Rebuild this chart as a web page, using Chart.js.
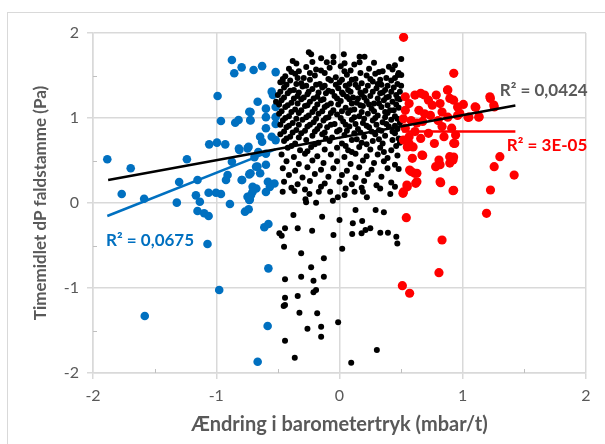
<!DOCTYPE html>
<html>
<head>
<meta charset="utf-8">
<script src="https://cdn.jsdelivr.net/npm/chart.js@4.4.1/dist/chart.umd.min.js"></script>
<style>
  html, body { margin: 0; padding: 0; background: #fff; overflow: hidden; }
  #wrap { position: relative; width: 605px; height: 444px; }
  #frame { position: absolute; left: 7px; top: 12px; width: 700px; height: 500px; border: 1.5px solid #d9d9d9; }
  canvas { position: absolute; left: 0; top: 0; }
</style>
</head>
<body>
<div id="wrap">
  <div id="frame"></div>
  <canvas id="chart" width="605" height="444"></canvas>
</div>
<script>
// Data: [x, y] = [mbar/t, Pa]
const bluePoints = [
  [-1.884, 0.514], [-1.694, 0.408], [-1.767, 0.106], [-1.585, 0.05], [-1.238, 0.514],
  [-1.301, 0.247], [-1.152, 0.27], [-1.165, 0.09], [-1.133, 0.015], [-1.152, -0.094],
  [-1.098, -0.121], [-1.062, -0.153], [-1.062, 0.121], [-1.002, 0.121], [-0.962, 0.106],
  [-1.32, 0.004], [-0.889, -0.012], [-0.767, -0.102], [-0.737, -0.074], [-0.732, 0.035],
  [-0.718, 0.094], [-0.989, 1.259], [-0.962, 0.965], [-1.057, 0.69], [-0.994, 0.71],
  [-0.927, 0.69], [-0.873, 1.682], [-0.794, 1.596], [-0.854, 1.526], [-0.697, 1.565],
  [-0.664, 1.192], [-0.846, 0.945], [-0.819, 0.976], [-0.724, 0.976], [-0.732, 1.074],
  [-0.873, 0.486], [-0.813, 0.624], [-0.746, 0.643], [-0.908, 0.33], [-0.921, 0.27],
  [-0.794, 0.27], [-0.732, 0.337], [-0.677, 0.427], [-0.705, 0.192], [-0.746, 0.074],
  [-1.071, -0.482], [-0.976, -1.024], [-1.58, -1.329], [-0.664, -1.867],
  [-0.61, -0.286], [-0.577, -0.247], [-0.577, -0.769], [-0.583, -1.447],
  [-0.628, 1.61], [-0.518, 1.54], [-0.55, 1.31], [-0.54, 1.27], [-0.597, 1.11],
  [-0.518, 1.13], [-0.597, 1.01], [-0.518, 1.01], [-0.518, 0.93], [-0.597, 0.88],
  [-0.644, 0.78], [-0.55, 0.78], [-0.518, 0.74], [-0.628, 0.72], [-0.722, 1.07],
  [-0.722, 0.97], [-0.738, 0.66], [-0.816, 0.64], [-0.659, 0.6], [-0.597, 0.58],
  [-0.69, 0.54], [-0.666, 0.43], [-0.597, 0.45], [-0.722, 0.35], [-0.644, 0.35],
  [-0.79, 0.27], [-0.675, 0.17], [-0.706, 0.13], [-0.581, 0.25], [-0.528, 0.23],
  [-0.565, 0.19], [-0.597, 0.13], [-0.728, 0.07], [-0.728, 0.04]
];

const blackPoints = [
  [-0.249, 1.773], [-0.23, 1.749], [-0.38, 1.671], [-0.049, 1.722], [0.035, 1.749],
  [-0.149, 1.702], [0.163, 1.722], [0.203, 1.722], [0.501, 1.694], [-0.103, 1.655],
  [-0.049, 1.655], [0.041, 1.643], [0.163, 1.655], [0.401, 1.604], [0.474, 1.506],
  [0.501, 1.506], [-0.461, 1.427], [-0.515, 1.192],
  [-0.35, 1.64], [-0.22, 1.66], [0.12, 1.63], [0.28, 1.65], [0.45, 1.62],
  [-0.41, 1.58], [-0.33, 1.55], [-0.27, 1.6], [-0.19, 1.57], [-0.08, 1.59], [0.01, 1.61],
  [0.09, 1.56], [0.24, 1.58], [0.32, 1.54], [0.43, 1.57],
  [-0.39, 1.54], [-0.24, 1.53], [-0.15, 1.56], [0.04, 1.55], [0.17, 1.53], [0.35, 1.55], [0.48, 1.53],
  [-0.44, 1.49], [-0.36, 1.52], [-0.29, 1.47], [-0.2, 1.5], [-0.12, 1.53], [-0.03, 1.48],
  [0.06, 1.51], [0.13, 1.46], [0.22, 1.5], [0.29, 1.52], [0.38, 1.47],
  [-0.46, 1.46], [-0.34, 1.47], [-0.09, 1.46], [0.02, 1.45], [0.25, 1.46], [0.33, 1.45], [0.45, 1.47],
  [-0.48, 1.42], [-0.4, 1.44], [-0.31, 1.41], [-0.24, 1.45], [-0.16, 1.4], [-0.07, 1.44],
  [0.0, 1.42], [0.05, 1.38], [0.1, 1.45], [0.18, 1.41], [0.27, 1.43], [0.34, 1.39],
  [0.42, 1.44], [0.47, 1.4],
  [-0.43, 1.39], [-0.35, 1.4], [-0.27, 1.38], [-0.19, 1.39], [-0.12, 1.38], [-0.03, 1.39],
  [0.08, 1.4], [0.13, 1.39], [0.23, 1.38], [0.31, 1.4], [0.39, 1.38], [0.5, 1.38],
  [-0.45, 1.36], [-0.37, 1.33], [-0.3, 1.37], [-0.22, 1.34], [-0.14, 1.36], [-0.09, 1.32],
  [-0.01, 1.35], [0.07, 1.33], [0.15, 1.36], [0.21, 1.32], [0.3, 1.35], [0.37, 1.33],
  [0.44, 1.36], [0.49, 1.31],
  [-0.48, 1.31], [-0.4, 1.32], [-0.33, 1.3], [-0.25, 1.31], [-0.17, 1.3], [-0.06, 1.31],
  [0.02, 1.3], [0.09, 1.31], [0.17, 1.3], [0.27, 1.31], [0.35, 1.3], [0.42, 1.31],
  [-0.5, 1.27], [-0.42, 1.29], [-0.34, 1.26], [-0.26, 1.28], [-0.18, 1.25], [-0.11, 1.29],
  [-0.04, 1.26], [0.03, 1.28], [0.11, 1.24], [0.18, 1.28], [0.25, 1.26], [0.33, 1.29],
  [0.4, 1.25], [0.46, 1.27],
  [-0.45, 1.24], [-0.37, 1.23], [-0.29, 1.24], [-0.21, 1.23], [-0.13, 1.22], [-0.02, 1.23],
  [0.06, 1.25], [0.15, 1.23], [0.2, 1.24], [0.31, 1.23], [0.38, 1.24], [0.47, 1.23],
  [-0.47, 1.21], [-0.39, 1.18], [-0.31, 1.22], [-0.24, 1.19], [-0.15, 1.21], [-0.07, 1.17],
  [0.01, 1.2], [0.08, 1.22], [0.14, 1.18], [0.22, 1.2], [0.28, 1.17], [0.36, 1.21],
  [0.43, 1.19], [0.49, 1.22],
  [-0.49, 1.16], [-0.42, 1.15], [-0.34, 1.17], [-0.26, 1.15], [-0.18, 1.16], [-0.1, 1.15],
  [-0.01, 1.16], [0.1, 1.17], [0.17, 1.15], [0.24, 1.16], [0.32, 1.17], [0.39, 1.15], [0.46, 1.16],
  [-0.44, 1.13], [-0.36, 1.1], [-0.28, 1.14], [-0.2, 1.11], [-0.12, 1.13], [-0.05, 1.09],
  [0.05, 1.12], [0.12, 1.1], [0.19, 1.14], [0.26, 1.11], [0.34, 1.13], [0.41, 1.09], [0.48, 1.12],
  [-0.47, 1.08], [-0.39, 1.07], [-0.31, 1.09], [-0.22, 1.07], [-0.14, 1.08], [-0.07, 1.06],
  [0.02, 1.08], [0.09, 1.09], [0.18, 1.07], [0.28, 1.08], [0.37, 1.07], [0.44, 1.09],
  [-0.49, 1.05], [-0.41, 1.02], [-0.33, 1.06], [-0.25, 1.03], [-0.17, 1.05], [-0.09, 1.01],
  [-0.02, 1.04], [0.07, 1.06], [0.16, 1.02], [0.23, 1.05], [0.31, 1.03], [0.39, 1.06], [0.45, 1.02],
  [-0.44, 1.0], [-0.35, 0.99], [-0.27, 1.01], [-0.19, 0.99], [-0.11, 1.0], [0.01, 1.0],
  [0.12, 1.01], [0.2, 0.99], [0.29, 1.0], [0.37, 1.01], [0.47, 0.99],
  [-0.46, 0.97], [-0.38, 0.94], [-0.3, 0.98], [-0.21, 0.95], [-0.13, 0.97], [-0.04, 0.93],
  [0.03, 0.96], [0.1, 0.98], [0.19, 0.94], [0.27, 0.97], [0.35, 0.95], [0.42, 0.98], [0.49, 0.94],
  [-0.48, 0.92], [-0.41, 0.91], [-0.33, 0.92], [-0.24, 0.92], [-0.16, 0.91], [-0.07, 0.92],
  [0.05, 0.92], [0.13, 0.93], [0.22, 0.91], [0.3, 0.92], [0.38, 0.93], [0.45, 0.91],
  [-0.43, 0.89], [-0.35, 0.86], [-0.26, 0.9], [-0.18, 0.87], [-0.1, 0.89], [0.0, 0.86],
  [0.08, 0.9], [0.15, 0.87], [0.24, 0.89], [0.32, 0.86], [0.4, 0.9], [0.47, 0.87],
  [-0.45, 0.84], [-0.38, 0.83], [-0.28, 0.85], [-0.2, 0.84], [-0.12, 0.83], [-0.02, 0.84],
  [0.06, 0.85], [0.17, 0.83], [0.26, 0.84], [0.34, 0.85], [0.43, 0.84],
  [-0.48, 0.81], [-0.4, 0.78], [-0.31, 0.82], [-0.22, 0.79], [-0.14, 0.81], [-0.06, 0.77],
  [0.04, 0.8], [0.12, 0.82], [0.2, 0.78], [0.29, 0.81], [0.37, 0.79], [0.45, 0.82],
  [-0.43, 0.76], [-0.33, 0.77], [-0.11, 0.76], [0.14, 0.75], [0.32, 0.75], [0.48, 0.76],
  [-0.45, 0.73], [-0.36, 0.7], [-0.27, 0.74], [-0.17, 0.71], [-0.08, 0.73], [0.02, 0.7],
  [0.1, 0.74], [0.18, 0.71], [0.27, 0.73], [0.35, 0.7], [0.43, 0.74], [0.49, 0.71],
  [-0.39, 0.67], [-0.2, 0.69], [0.05, 0.67], [0.22, 0.69], [0.46, 0.67],
  [-0.42, 0.65], [-0.32, 0.62], [-0.23, 0.66], [-0.12, 0.63], [-0.02, 0.65], [0.07, 0.62],
  [0.16, 0.66], [0.25, 0.63], [0.33, 0.65], [0.42, 0.62],
  [-0.26, 0.61], [0.1, 0.6], [0.36, 0.6],
  [-0.47, 0.57], [-0.37, 0.54], [-0.28, 0.58], [-0.18, 0.55], [-0.07, 0.57], [0.04, 0.54],
  [0.13, 0.58], [0.22, 0.55], [0.31, 0.57], [0.39, 0.53], [0.47, 0.56],
  [-0.43, 0.49], [-0.33, 0.46], [-0.22, 0.5], [-0.13, 0.47], [-0.02, 0.49], [0.09, 0.46],
  [0.19, 0.5], [0.28, 0.47], [0.36, 0.49], [0.45, 0.45],
  [-0.46, 0.41], [-0.36, 0.38], [-0.26, 0.42], [-0.15, 0.39], [-0.05, 0.41], [0.06, 0.38],
  [0.16, 0.42], [0.26, 0.39], [0.39, 0.41], [0.48, 0.4],
  [-0.41, 0.33], [-0.3, 0.3], [-0.2, 0.34], [-0.09, 0.31], [0.02, 0.33], [0.13, 0.3],
  [0.23, 0.34], [0.34, 0.31],
  [-0.45, 0.25], [-0.34, 0.22], [-0.24, 0.26], [-0.12, 0.23], [0.0, 0.25], [0.1, 0.22],
  [0.2, 0.26], [0.3, 0.21], [0.42, 0.24],
  [-0.39, 0.18], [-0.28, 0.16], [-0.15, 0.19], [0.05, 0.17], [0.18, 0.18], [0.33, 0.17], [0.45, 0.19],
  [-0.461, 0.133], [-0.366, 0.141], [-0.244, 0.106], [-0.276, 0.043], [-0.271, 0.008],
  [-0.19, 0.004], [-0.168, 0.133], [-0.054, 0.027], [-0.014, 0.067], [0.041, 0.094],
  [0.122, 0.133], [0.222, 0.067], [0.412, 0.106], [-0.076, 0.133], [0.19, 0.133],
  [-0.374, -0.141], [-0.141, -0.161], [0.0, -0.2], [0.13, -0.082], [0.293, -0.082],
  [0.36, -0.11], [0.184, -0.212], [0.108, -0.239], [-0.488, -0.357], [-0.469, -0.385],
  [-0.442, -0.298], [-0.339, -0.298], [-0.222, -0.326], [-0.049, -0.376], [0.103, -0.365],
  [0.179, -0.357], [0.211, -0.318], [0.25, -0.298], [0.331, -0.349], [0.393, -0.349],
  [0.461, -0.396], [0.469, -0.475], [-0.45, -0.514], [0.022, -0.537], [-0.311, -0.592],
  [-0.127, -0.651], [-0.23, -0.757], [-0.442, -0.898], [-0.311, -0.867], [-0.211, -0.914],
  [-0.127, -0.867], [-0.211, -1.051], [-0.19, -1.024], [-0.339, -1.094], [-0.442, -1.114],
  [-0.453, -1.212], [-0.442, -1.2], [-0.325, -1.29], [-0.181, -1.298], [-0.011, -1.404],
  [-0.149, -1.455], [-0.26, -1.478], [-0.149, -1.573], [-0.442, -1.62], [0.303, -1.729],
  [-0.363, -1.82], [0.095, -1.878]
];

const redPoints = [
  [0.52, 1.949], [0.927, 1.526], [0.876, 1.329], [1.22, 1.25], [1.252, 1.153],
  [1.106, 1.126], [1.043, 1.008], [1.133, 1.016], [0.976, 1.055], [0.927, 0.702],
  [0.921, 0.506], [0.894, 0.545], [0.807, 0.506], [0.78, 0.427], [0.821, 0.239],
  [0.921, 0.145], [1.301, 0.545], [1.255, 0.427], [1.417, 0.329], [1.225, 0.153],
  [0.669, 0.565], [0.591, 0.526], [0.61, 0.349], [0.569, 0.388], [0.618, 0.231],
  [0.547, 0.212], [0.515, 0.114], [0.542, -0.173], [1.193, -0.121], [0.832, -0.435],
  [0.807, -0.82], [0.51, -0.973], [0.569, -1.062],
  [0.534, 1.25], [0.565, 1.17], [0.612, 1.27], [0.659, 1.29], [0.69, 1.27], [0.722, 1.21],
  [0.785, 1.27], [0.879, 1.33], [0.895, 1.23], [0.926, 1.21], [0.816, 1.17], [0.753, 1.15],
  [0.644, 1.09], [0.69, 1.05], [0.738, 1.03], [0.534, 1.09], [0.518, 0.99], [0.581, 0.97],
  [0.628, 0.94], [0.675, 0.96], [0.8, 0.97], [0.879, 1.01], [0.958, 1.03], [0.832, 0.9],
  [0.91, 0.88], [0.534, 0.88], [0.612, 0.84], [0.722, 0.82], [0.565, 0.78], [0.518, 0.74],
  [0.597, 0.66], [0.675, 0.56], [0.565, 0.7], [0.659, 0.76], [0.848, 0.78], [0.942, 0.8],
  [0.935, 0.7], [0.832, 1.07], [0.958, 1.13], [1.005, 1.16], [1.13, 1.01], [1.05, 1.01],
  [1.1, 1.13], [1.224, 1.23], [1.256, 1.13], [0.77, 0.7], [0.55, 0.66], [0.816, 0.45],
  [0.895, 0.47], [0.926, 0.54], [0.628, 0.25], [0.581, 0.37], [0.628, 0.35], [0.55, 0.19],
  [0.518, 0.13], [0.816, 0.25], [0.926, 0.15]
];

// Linear trendlines (end points) and their R² labels
const trendAll = [[-1.877, 0.27], [1.427, 1.147]];
const trendBlue = [[-1.884, -0.153], [-0.52, 0.63]];
const trendRed = [[0.51, 0.84], [1.427, 0.84]];
const r2Texts = ['R² = 0,0424', 'R² = 3E-05', 'R² = 0,0675'];

const xTitle = 'Ændring i barometertryk (mbar/t)';
const yTitle = 'Timemidlet dP faldstamme (Pa)';
const axisMin = -2;
const axisMax = 2;

const toXY = arr => arr.map(p => ({ x: p[0], y: p[1] }));
const isMajor = v => Math.abs(v - Math.round(v)) < 1e-6;
const GRID = '#d9d9d9';
const TEXT = '#595959';
const FONT = 'Lato, "Open Sans", sans-serif';

// R² labels: anchor in data units (left edge, vertical middle)
const r2Labels = [
  { text: r2Texts[0], x: 1.30, y: 1.32, color: TEXT },
  { text: r2Texts[1], x: 1.358, y: 0.68, color: '#ff0000' },
  { text: r2Texts[2], x: -1.894, y: -0.445, color: '#0070c0' }
];

const extras = {
  id: 'extras',
  afterDraw(chart) {
    const { ctx, scales: { x, y } } = chart;
    ctx.save();
    // minor tick marks pointing inwards
    ctx.strokeStyle = '#bfbfbf';
    ctx.lineWidth = 1;
    for (let v = axisMin + 0.5; v < axisMax; v += 1) {
      const px = Math.round(x.getPixelForValue(v)) + 0.5;
      ctx.beginPath();
      ctx.moveTo(px, y.bottom);
      ctx.lineTo(px, y.bottom - 4);
      ctx.stroke();
      const py = Math.round(y.getPixelForValue(v)) + 0.5;
      ctx.beginPath();
      ctx.moveTo(x.left, py);
      ctx.lineTo(x.left + 4, py);
      ctx.stroke();
    }
    ctx.font = 'bold 17px ' + FONT;
    ctx.textBaseline = 'middle';
    ctx.textAlign = 'left';
    r2Labels.forEach(l => {
      ctx.fillStyle = l.color;
      ctx.fillText(l.text, x.getPixelForValue(l.x), y.getPixelForValue(l.y));
    });
    ctx.restore();
  }
};

const axisBase = {
  type: 'linear',
  min: axisMin,
  max: axisMax,
  border: { color: GRID, width: 1.5 },
  grid: {
    color: c => isMajor(c.tick.value) ? GRID : 'rgba(0,0,0,0)',
    tickColor: c => isMajor(c.tick.value) ? GRID : 'rgba(0,0,0,0)',
    lineWidth: 1.5,
    tickLength: 6
  }
};

new Chart(document.getElementById('chart'), {
  type: 'scatter',
  data: {
    datasets: [
      { type: 'line', data: toXY(trendAll), borderColor: '#000000', borderWidth: 2.5, pointRadius: 0, order: 0 },
      { type: 'line', data: toXY(trendBlue), borderColor: '#0070c0', borderWidth: 2.5, pointRadius: 0, order: 0 },
      { type: 'line', data: toXY(trendRed), borderColor: '#ff0000', borderWidth: 2.5, pointRadius: 0, order: 0 },
      { data: toXY(redPoints), backgroundColor: '#ff0000', borderWidth: 0, pointRadius: 4.6, order: 1 },
      { data: toXY(blackPoints), backgroundColor: '#000000', borderWidth: 0, pointRadius: 3, order: 2 },
      { data: toXY(bluePoints), backgroundColor: '#0070c0', borderWidth: 0, pointRadius: 4.3, order: 3 }
    ]
  },
  options: {
    responsive: false,
    animation: false,
    layout: { padding: { top: 33, right: 19, left: 0, bottom: 0 } },
    plugins: { legend: { display: false }, tooltip: { enabled: false } },
    scales: {
      x: {
        ...axisBase,
        position: 'bottom',
        afterFit: s => { s.height = 71; },
        ticks: {
          stepSize: 0.5, maxRotation: 0, autoSkip: false, padding: 7,
          color: TEXT, font: { family: FONT, size: 16 },
          callback: v => isMajor(v) ? String(Math.round(v)) : ''
        },
        title: {
          display: true, text: xTitle, color: TEXT,
          font: { family: FONT, size: 20, weight: 'bold' },
          padding: { top: 0, bottom: 7 }
        }
      },
      y: {
        ...axisBase,
        position: 'left',
        afterFit: s => { s.width = 93; },
        ticks: {
          stepSize: 0.5, autoSkip: false, padding: 8,
          color: TEXT, font: { family: FONT, size: 16 },
          callback: v => isMajor(v) ? String(Math.round(v)) : ''
        },
        title: {
          display: true, text: yTitle, color: TEXT,
          font: { family: FONT, size: 17, weight: 'bold' },
          padding: { top: 30, bottom: 0 }
        }
      }
    }
  },
  plugins: [extras]
});
</script>
</body>
</html>
